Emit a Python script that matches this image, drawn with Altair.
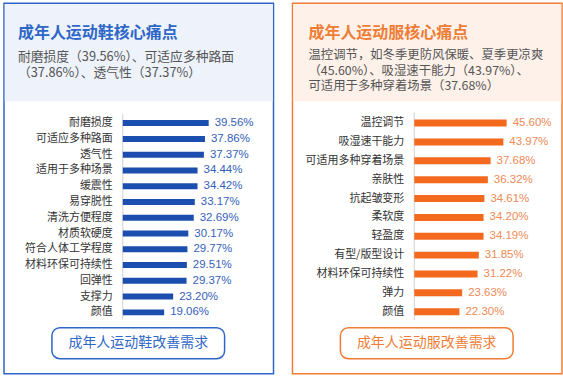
import altair as alt
import pandas as pd

FONT = "Noto Sans CJK SC"
NUMFONT = "Liberation Sans"

# ---- data ----
shoe_items = ["耐磨损度", "可适应多种路面", "透气性", "适用于多种场景", "缓震性", "易穿脱性",
              "清洗方便程度", "材质软硬度", "符合人体工学程度", "材料环保可持续性", "回弹性", "支撑力", "颜值"]
shoe_values = [39.56, 37.86, 37.37, 34.44, 34.42, 33.17, 32.69, 30.17, 29.77, 29.51, 29.37, 23.20, 19.06]

cloth_items = ["温控调节", "吸湿速干能力", "可适用多种穿着场景", "亲肤性", "抗起皱变形", "柔软度",
               "轻盈度", "有型/版型设计", "材料环保可持续性", "弹力", "颜值"]
cloth_values = [45.60, 43.97, 37.68, 36.32, 34.61, 34.20, 34.19, 31.85, 31.22, 23.63, 22.30]

shoe_title = "成年人运动鞋核心痛点"
shoe_sub = ["耐磨损度（39.56%）、可适应多种路面", "（37.86%）、透气性（37.37%）"]
shoe_button = "成年人运动鞋改善需求"

cloth_title = "成年人运动服核心痛点"
cloth_sub = ["温控调节，如冬季更防风保暖、夏季更凉爽", "（45.60%）、吸湿速干能力（43.97%）、", "可适用于多种穿着场景（37.68%）"]
cloth_button = "成年人运动服改善需求"

W, H = 270, 371


def panel(items, values, title, sub, button, main, bar_color, val_color, head_bg,
          xdom, xrange, yrange, pin, sub_y, sub_size, title_pos, label_x, axis_x):
    df = pd.DataFrame({"item": items, "value": values,
                       "label": [f"{v:.2f}%" for v in values]})
    one = alt.Data(values=[{}])

    header = alt.Chart(one).mark_rect(color=head_bg).encode(
        x=alt.value(0.75), x2=alt.value(W - 0.75), y=alt.value(0.75), y2=alt.value(98))
    ttl = alt.Chart(one).mark_text(text=title, font=FONT, fontSize=16, fontWeight="bold",
                                   color=main, align="left", baseline="middle").encode(
        x=alt.value(title_pos[0]), y=alt.value(title_pos[1]))
    subs = []
    for s, yy in zip(sub, sub_y):
        subs.append(alt.Chart(one).mark_text(text=s, font=FONT, fontSize=sub_size, color="#555555",
                                             align="left", baseline="middle").encode(
            x=alt.value(title_pos[0]), y=alt.value(yy)))

    yenc = alt.Y("item:N", sort=None, axis=None,
                 scale=alt.Scale(range=yrange, paddingInner=pin, paddingOuter=pin / 2))
    xenc = alt.X("value:Q", axis=None, scale=alt.Scale(domain=xdom, range=xrange))

    axis_line = alt.Chart(one).mark_rule(color="#d0d0d0", strokeWidth=1).encode(
        x=alt.value(axis_x), y=alt.value(yrange[0] - 1), y2=alt.value(yrange[1] - 1))
    bars = alt.Chart(df).mark_bar(color=bar_color).encode(x=xenc, y=yenc)
    cat = alt.Chart(df).mark_text(font=FONT, fontSize=11, color="#333333", align="right",
                                  baseline="middle").encode(
        x=alt.value(label_x), y=yenc, text="item:N")
    val = alt.Chart(df).mark_text(font=NUMFONT, fontSize=11.5, color=val_color, align="left",
                                  baseline="middle", dx=6).encode(
        x=xenc, y=yenc, text="label:N")

    btn = alt.Chart(one).mark_rect(fill="white", stroke=main, strokeWidth=1.5,
                                   cornerRadius=8).encode(
        x=alt.value(48), x2=alt.value(221), y=alt.value(325), y2=alt.value(356))
    btn_t = alt.Chart(one).mark_text(text=button, font=FONT, fontSize=14, color=main,
                                     align="center", baseline="middle").encode(
        x=alt.value(134.5), y=alt.value(340.5))

    return alt.layer(header, ttl, *subs, axis_line, bars, cat, val, btn, btn_t).properties(
        width=W, height=H,
        view=alt.ViewBackground(stroke=main, strokeWidth=1.5, fill="white"))


left = panel(shoe_items, shoe_values, shoe_title, shoe_sub, shoe_button,
             main="#2f67c8", bar_color="#1b4eae", val_color="#3561b8", head_bg="#eef3fb",
             xdom=[0, 40], xrange=[119, 206], yrange=[112.1, 317.5], pin=0.62,
             sub_y=[53.5, 69.5], sub_size=12.8, title_pos=(14, 30), label_x=109, axis_x=119)
right = panel(cloth_items, cloth_values, cloth_title, cloth_sub, cloth_button,
              main="#ef7d35", bar_color="#f36a1e", val_color="#ee8a55", head_bg="#fdf1ea",
              xdom=[0, 50], xrange=[122, 223.5], yrange=[110.5, 318.4], pin=0.63,
              sub_y=[52, 67.5, 83], sub_size=12.4, title_pos=(16, 30), label_x=112, axis_x=122)

chart = alt.hconcat(left, right, spacing=17).properties(
    padding={"left": 3, "top": 2, "right": 0, "bottom": 0},
    background="white"
).configure_view(strokeWidth=1.5)

chart.save("out.html", embed_options={"renderer": "svg", "actions": False})
